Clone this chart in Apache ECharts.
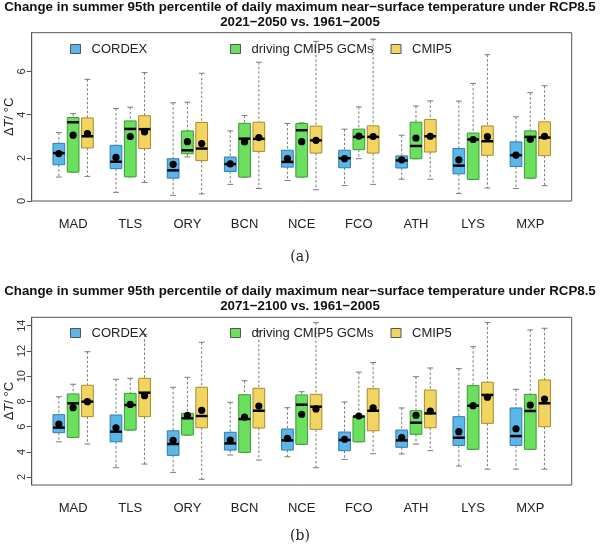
<!DOCTYPE html>
<html><head><meta charset="utf-8">
<script src="https://cdn.jsdelivr.net/npm/echarts@6/dist/echarts.min.js"></script>
<style>html,body{margin:0;padding:0;background:#fff}#c{width:600px;height:546px}</style>
</head><body><div id="c"></div>
<script>
const cities = ['MAD','TLS','ORY','BCN','NCE','FCO','ATH','LYS','MXP'];
const groupNames = ['CORDEX','driving CMIP5 GCMs','CMIP5'];
const titleLine1 = 'Change in summer 95th percentile of daily maximum near\u2212surface temperature under RCP8.5';
const periodA = '2021\u22122050 vs. 1961\u22122005';
const periodB = '2071\u22122100 vs. 1961\u22122005';
const yTicksA = [0, 2, 4, 6];
const yTicksB = [2, 4, 6, 8, 10, 12, 14];

// each row: [lower whisker, Q1, median, Q3, upper whisker, mean]
const a_CORDEX = [
  [1.11,1.68,2.22,2.67,3.17,2.20],[0.40,1.50,1.82,2.58,4.29,2.02],[0.26,1.06,1.42,1.96,4.55,1.70],
  [0.77,1.37,1.71,2.04,3.25,1.72],[0.95,1.57,1.81,2.35,3.59,1.96],[0.72,1.54,1.98,2.35,3.33,1.96],
  [1.01,1.53,1.88,2.09,3.05,1.91],[0.35,1.26,1.64,2.43,4.63,1.91],[0.58,1.60,2.12,2.74,3.90,2.13]];
const a_GCM = [
  [1.34,1.34,3.65,3.87,4.05,3.05],[1.12,1.12,3.34,3.71,4.35,2.99],[2.04,2.19,2.35,3.25,4.58,2.75],
  [1.11,1.11,2.89,3.60,3.96,2.74],[1.11,1.11,3.28,3.59,3.62,2.75],[1.96,2.38,2.97,3.33,4.36,3.01],
  [1.96,1.96,2.55,3.65,4.40,2.92],[1.00,1.00,2.85,3.15,5.45,2.85],[1.06,1.06,2.97,3.25,5.02,2.86]];
const a_CMIP5 = [
  [1.14,2.46,3.00,3.85,5.64,3.12],[0.86,2.43,3.33,3.95,5.95,3.20],[0.33,1.87,2.43,3.64,5.92,2.66],
  [0.58,2.30,2.88,3.65,6.43,2.94],[0.52,2.22,2.81,3.47,7.40,2.81],[0.77,2.22,2.97,3.48,7.50,2.99],
  [1.01,2.27,3.00,3.78,4.64,3.00],[0.60,2.12,2.77,3.48,6.78,2.98],[0.71,2.10,2.94,3.67,5.34,3.00]];

const b_CORDEX = [
  [4.80,5.52,5.92,6.95,8.37,6.20],[2.74,4.80,5.60,6.92,9.75,5.91],[2.37,3.72,4.62,5.67,9.12,4.91],
  [3.75,4.14,4.67,5.55,7.93,4.94],[3.61,4.14,4.91,5.81,7.50,5.07],[3.40,4.09,4.94,5.57,7.95,5.00],
  [3.83,4.36,4.91,5.73,7.48,5.12],[2.87,4.51,5.12,6.79,10.60,5.60],[2.63,4.51,5.25,7.48,8.96,5.83]];
const b_GCM = [
  [5.15,5.15,7.85,8.59,9.36,7.50],[5.73,5.73,7.71,8.64,9.83,7.76],[5.33,5.33,6.66,7.05,9.91,6.90],
  [3.96,3.96,6.60,8.53,9.64,6.76],[4.60,4.60,7.74,8.51,8.77,6.98],[4.80,4.80,6.80,6.84,10.32,6.84],
  [4.62,5.39,6.31,7.26,9.96,6.90],[4.20,4.20,7.66,9.25,12.34,7.66],[4.20,4.20,7.24,8.56,13.67,7.71]];
const b_CMIP5 = [
  [4.62,6.79,7.98,9.28,11.94,7.98],[3.03,6.79,8.69,9.83,13.30,8.45],[1.82,5.91,6.84,9.12,12.69,7.29],
  [3.35,5.89,7.26,9.04,13.60,7.63],[2.74,5.78,7.58,8.56,14.25,7.40],[3.85,5.67,7.26,9.01,11.08,7.48],
  [4.09,5.91,7.05,8.90,10.65,7.24],[2.63,6.26,8.51,9.52,14.25,8.33],[2.63,5.99,7.85,9.70,13.80,8.19]];

const FILLS = ['#5CB6E8', '#6BE05E', '#F2D560'];
const STROKES = ['#2F7DB0', '#3C9A36', '#A88B2A'];
const FONT = "'Liberation Sans', Arial, sans-serif";
const BOX_W = 0.82;

function renderBox(fill, stroke) {
  return function (params, api) {
    const x = api.value(0);
    const c = i => api.coord([x, api.value(i)]);
    const lo = c(1), q1 = c(2), md = c(3), q3 = c(4), hi = c(5), mn = c(6);
    const bw = api.size([BOX_W, 0])[0];
    const cw = bw / 2;
    const cx = lo[0];
    const wStyle = { stroke: '#7a7a7a', lineWidth: 1, lineDash: [2.5, 2] };
    const capStyle = { stroke: '#7a7a7a', lineWidth: 1 };
    return { type: 'group', children: [
      { type: 'line', shape: { x1: cx, y1: hi[1], x2: cx, y2: q3[1] }, style: wStyle },
      { type: 'line', shape: { x1: cx, y1: q1[1], x2: cx, y2: lo[1] }, style: wStyle },
      { type: 'line', shape: { x1: cx - cw / 2, y1: hi[1], x2: cx + cw / 2, y2: hi[1] }, style: capStyle },
      { type: 'line', shape: { x1: cx - cw / 2, y1: lo[1], x2: cx + cw / 2, y2: lo[1] }, style: capStyle },
      { type: 'rect', shape: { x: cx - bw / 2, y: q3[1], width: bw, height: q1[1] - q3[1] },
        style: { fill: fill, stroke: stroke, lineWidth: 1 } },
      { type: 'line', shape: { x1: cx - bw / 2, y1: md[1], x2: cx + bw / 2, y2: md[1] },
        style: { stroke: '#000', lineWidth: 2.5 } },
      { type: 'circle', shape: { cx: cx, cy: mn[1], r: 3.6 }, style: { fill: '#000' } }
    ] };
  };
}

function rows(arr, g) {
  return arr.map((r, i) => [i * 4 + g + 1].concat(r));
}

const panels = [
  { data: [a_CORDEX, a_GCM, a_CMIP5], top: 32.7, height: 168.3, min: 0, max: 7.8, ticks: yTicksA, period: periodA, titleTop: 0, legendTop: 42.5, tag: '(a)', tagY: 258 },
  { data: [b_CORDEX, b_GCM, b_CMIP5], top: 317.3, height: 167.7, min: 1.37, max: 14.67, ticks: yTicksB, period: periodB, titleTop: 284, legendTop: 326.5, tag: '(b)', tagY: 537 }
];
const legendLefts = [70, 230, 390.5];

const option = {
  animation: false,
  title: [], grid: [], xAxis: [], yAxis: [], series: [], legend: [], graphic: []
};
const labelPos = cities.map((_, i) => i * 4 + 2);

panels.forEach((p, pi) => {
  option.title.push({
    text: titleLine1 + '\n' + p.period, left: 'center', top: p.titleTop, padding: 0,
    textStyle: { fontFamily: FONT, fontSize: 13.3, fontWeight: 'bold', color: '#111', lineHeight: 15 }
  });
  option.grid.push({ left: 31.7, width: 540, top: p.top, height: p.height, show: true,
    outerBoundsMode: 'none', containLabel: false,
    borderColor: '#555', borderWidth: 1, backgroundColor: 'transparent' });
  option.xAxis.push({ gridIndex: pi, type: 'value', min: -0.9, max: 36.9,
    axisLine: { show: false, onZero: false }, axisTick: { show: false }, splitLine: { show: false },
    axisLabel: { customValues: labelPos, formatter: v => cities[Math.round((v - 2) / 4)] || '',
      margin: 17, fontSize: 13, color: '#222', fontFamily: FONT } });
  option.yAxis.push({ gridIndex: pi, type: 'value', min: p.min, max: p.max,
    name: '\u0394{i|T}/ \u00B0C', nameLocation: 'middle', nameRotate: 90, nameGap: 16,
    nameMoveOverlap: false,
    nameTextStyle: { fontFamily: FONT, fontSize: 13, color: '#222', rich: { i: { fontStyle: 'italic', fontFamily: FONT, fontSize: 13, color: '#222' } } },
    axisLine: { show: true, onZero: false, lineStyle: { color: '#555' } },
    axisTick: { show: true, length: 5, customValues: p.ticks, lineStyle: { color: '#555' } },
    splitLine: { show: false },
    axisLabel: { customValues: p.ticks, rotate: 90, fontSize: 11, color: '#333', margin: 4, fontFamily: FONT } });
  p.data.forEach((arr, g) => {
    option.series.push({ type: 'custom', name: groupNames[g], xAxisIndex: pi, yAxisIndex: pi,
      itemStyle: { color: FILLS[g], borderColor: STROKES[g] },
      encode: { x: 0, y: [1, 2, 3, 4, 5, 6] },
      renderItem: renderBox(FILLS[g], STROKES[g]), data: rows(arr, g) });
    option.legend.push({ left: legendLefts[g], top: p.legendTop, padding: 0, selectedMode: false,
      itemWidth: 10, itemHeight: 9,
      data: [{ name: groupNames[g], icon: 'rect', itemStyle: { color: FILLS[g], borderColor: '#555', borderWidth: 1 } }],
      textStyle: { fontFamily: FONT, fontSize: 13, color: '#222', padding: [0, 0, 0, 6] } });
  });
  option.graphic.push({ type: 'text', left: 'center', top: p.tagY - 8,
    style: { text: p.tag, font: "14px 'DejaVu Serif', 'Liberation Serif', serif", fill: '#222' } });
});

const chart = echarts.init(document.getElementById('c'), null, { renderer: 'canvas' });
chart.setOption(option);
</script></body></html>
